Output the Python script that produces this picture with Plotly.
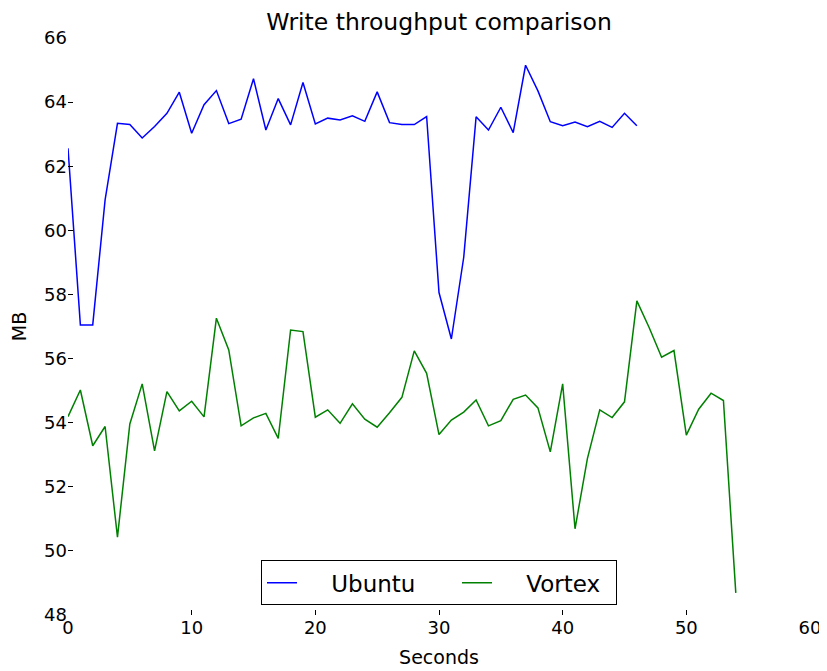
import plotly.graph_objects as go

ubuntu_mb = [62.56, 57.05, 57.05, 60.95, 63.34, 63.30, 62.88, 63.24, 63.65, 64.31,
             63.03, 63.92, 64.36, 63.33, 63.47, 64.73, 63.13, 64.11, 63.29, 64.61,
             63.32, 63.50, 63.44, 63.57, 63.40, 64.32, 63.36, 63.30, 63.30, 63.55,
             58.06, 56.61, 59.16, 63.54, 63.13, 63.84, 63.05, 65.15, 64.35, 63.39,
             63.26, 63.38, 63.23, 63.40, 63.21, 63.65, 63.26]
vortex_mb = [54.19, 55.02, 53.28, 53.88, 50.43, 53.96, 55.21, 53.12, 54.97, 54.37,
             54.67, 54.18, 57.26, 56.27, 53.90, 54.15, 54.29, 53.51, 56.89, 56.84,
             54.17, 54.40, 53.98, 54.59, 54.11, 53.86, 54.31, 54.79, 56.24, 55.54,
             53.63, 54.08, 54.33, 54.71, 53.90, 54.06, 54.73, 54.86, 54.46, 53.09,
             55.21, 50.69, 52.88, 54.40, 54.16, 54.65, 57.80, 56.96, 56.04, 56.25,
             53.61, 54.42, 54.92, 54.69, 48.69]
ubuntu_s = list(range(len(ubuntu_mb)))
vortex_s = list(range(len(vortex_mb)))

x_ticks = [0, 10, 20, 30, 40, 50, 60]
y_ticks = [48, 50, 52, 54, 56, 58, 60, 62, 64, 66]

FONT = "DejaVu Sans"
PAD = "\u00a0\u00a0\u00a0\u00a0"

fig = go.Figure()
fig.add_trace(go.Scatter(x=ubuntu_s, y=ubuntu_mb, mode="lines", name=PAD + "Ubuntu",
                         legendwidth=150,
                         line=dict(color="#0000ff", width=1.5)))
fig.add_trace(go.Scatter(x=vortex_s, y=vortex_mb, mode="lines", name=PAD + "Vortex",
                         legendwidth=114,
                         line=dict(color="#008000", width=1.5)))

# page body adds an 8px offset; sizes/margins compensate for it
fig.update_layout(
    width=819, height=663,
    margin=dict(l=60, r=17, t=30, b=56),
    paper_bgcolor="white", plot_bgcolor="white",
    font=dict(family=FONT, color="black", size=18),
    title=dict(text="Write throughput comparison", x=0.5, xanchor="center",
               xref="paper", y=1 - 14 / 663, yref="container", yanchor="middle",
               font=dict(family=FONT, size=23.5, color="black"),
               automargin=False),
    showlegend=True,
    legend=dict(orientation="h", x=0.5, xanchor="center", y=0.017, yanchor="bottom",
                bgcolor="white", bordercolor="black", borderwidth=1,
                font=dict(family=FONT, size=23, color="black"),
                entrywidthmode="pixels"),
)
fig.update_xaxes(range=[0, 60], tickvals=x_ticks, ticktext=[str(v) for v in x_ticks],
                 showgrid=False, zeroline=False, showline=False, automargin=False,
                 ticks="inside", ticklen=5, tickwidth=1, tickcolor="black",
                 tickfont=dict(family=FONT, size=18),
                 title=dict(text="Seconds", font=dict(family=FONT, size=19), standoff=13))
fig.update_yaxes(range=[48, 66], tickvals=y_ticks, ticktext=[str(v) for v in y_ticks],
                 showgrid=False, zeroline=False, showline=False, automargin=False,
                 ticks="inside", ticklen=5, tickwidth=1, tickcolor="black",
                 tickfont=dict(family=FONT, size=18),
                 title=dict(text="MB", font=dict(family=FONT, size=19), standoff=20))

fig.write_html("out.html")
